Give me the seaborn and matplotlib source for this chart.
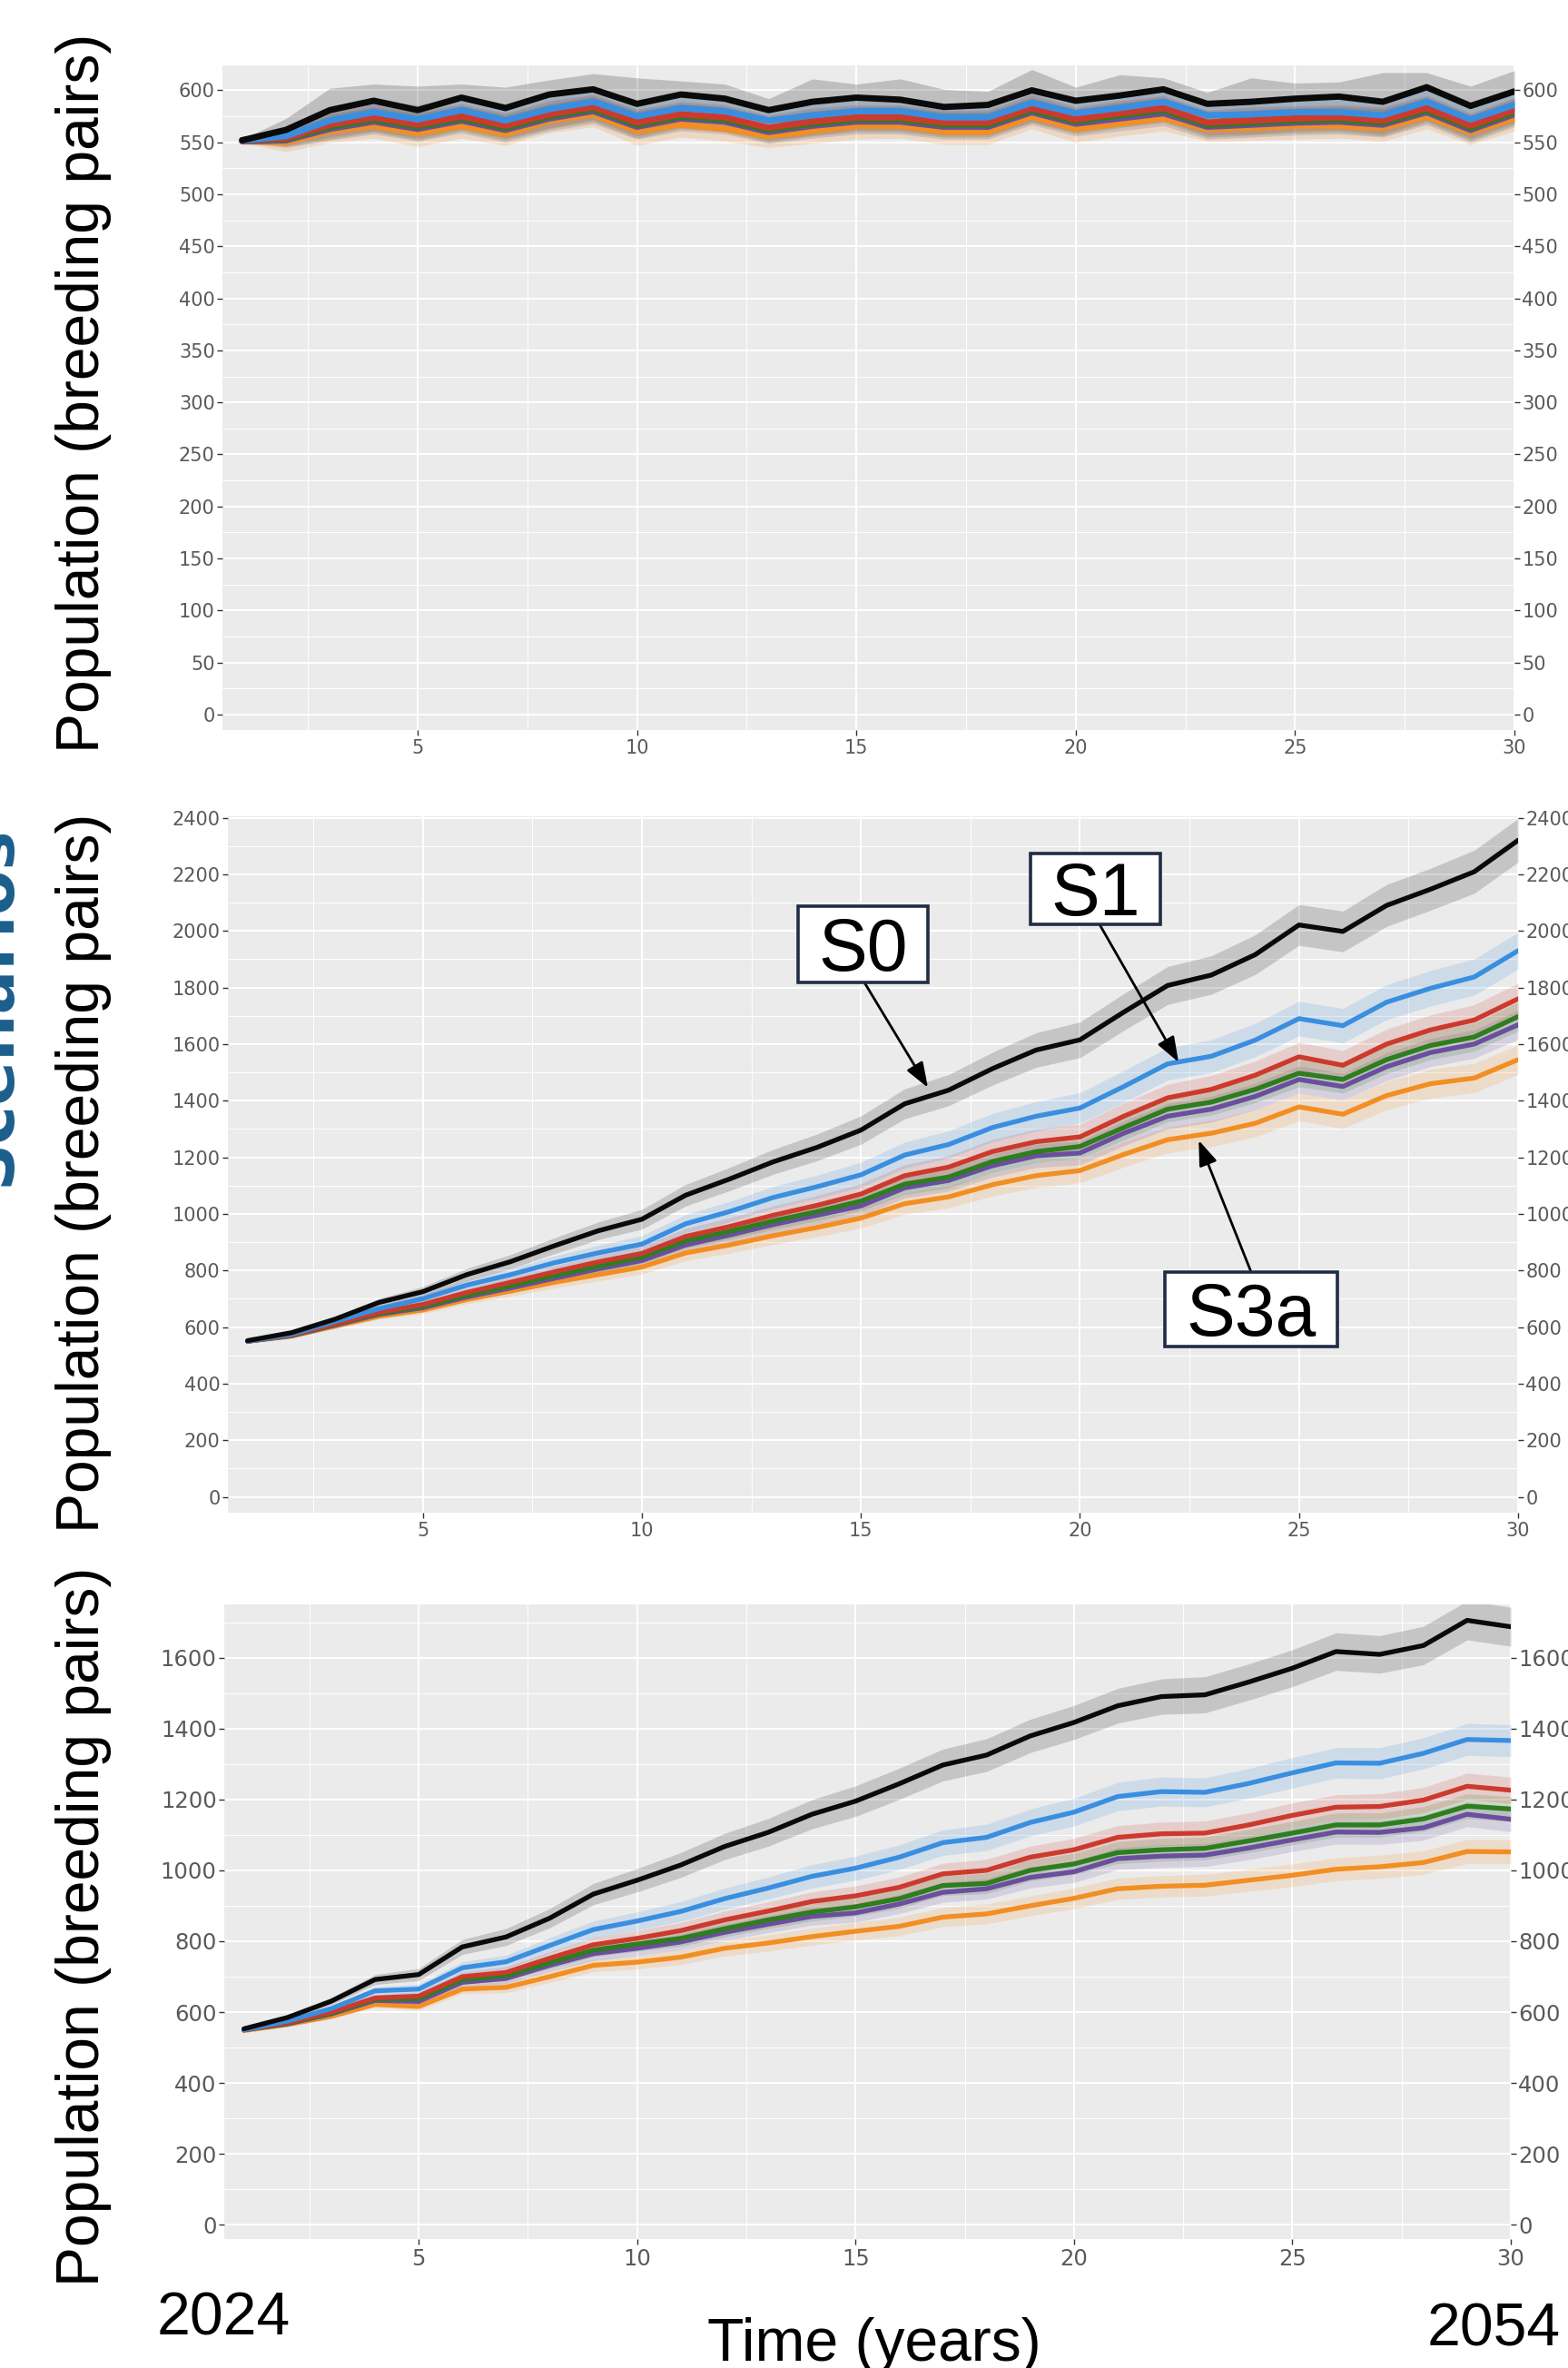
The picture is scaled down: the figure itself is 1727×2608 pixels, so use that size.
import numpy as np
import pandas as pd
import matplotlib
matplotlib.use("Agg")
import matplotlib.pyplot as plt
import seaborn as sns
from matplotlib import font_manager
from matplotlib.patches import Rectangle
from matplotlib.ticker import MultipleLocator

# ---------------- data ----------------
years = list(range(1, 31))
scenarios = ["S3a", "S3c", "S3b", "S2", "S1", "S0"]   # drawing order (S0 on top)
palette = {"S0": "#0A0A0A", "S1": "#3A8EE0", "S2": "#CC3A2E",
           "S3b": "#2E7D1E", "S3c": "#6B4E9E", "S3a": "#F28E22"}

# Panel 1 (top) means
p1_S0 = [552, 562, 581, 590, 581, 593, 583, 596, 601, 587, 596, 592, 581, 589, 593,
         591, 584, 586, 600, 590, 595, 601, 587, 589, 592, 594, 589, 603, 585, 599]
p1_S1 = [552, 556, 571, 579, 572, 581, 571, 582, 589, 575, 583, 580, 571, 576, 580,
         580, 574, 574, 588, 578, 583, 589, 576, 577, 579, 579, 576, 589, 572, 586]
p1_S2 = [552, 554, 567, 574, 567, 575, 566, 577, 584, 569, 577, 574, 564, 570, 574,
         574, 569, 569, 583, 572, 578, 583, 569, 571, 573, 574, 571, 583, 566, 581]
p1_S3b = [552, 553, 565, 572, 565, 573, 564, 575, 582, 567, 575, 572, 562, 568, 572,
          572, 567, 567, 581, 570, 576, 581, 567, 569, 571, 572, 569, 581, 564, 579]
p1_S3c = [551, 552, 563, 570, 563, 571, 562, 573, 580, 565, 573, 570, 560, 566, 570,
          570, 565, 565, 579, 568, 573, 578, 565, 567, 569, 570, 567, 579, 562, 577]
p1_S3a = [551, 550, 561, 566, 559, 566, 558, 571, 577, 561, 567, 563, 556, 561, 566,
          566, 560, 560, 575, 563, 568, 573, 563, 564, 566, 566, 564, 575, 560, 573]
# Panel 1 band half-widths
p1_w_S0 = [1, 11, 21, 16, 23, 13, 20, 14, 15, 25, 13, 14, 11, 22, 13,
           20, 17, 13, 20, 13, 20, 11, 11, 23, 15, 14, 28, 14, 19, 20]
p1_w_S1 = [1, 6, 12, 12, 14, 12, 13, 12, 12, 14, 12, 12, 11, 13, 12,
           13, 12, 12, 13, 12, 13, 12, 11, 13, 12, 12, 14, 12, 12, 13]
p1_w_S2 = [1, 7, 12, 13, 13, 12, 12, 13, 12, 13, 12, 12, 12, 13, 12,
           12, 12, 12, 13, 12, 12, 12, 12, 13, 12, 12, 13, 12, 12, 12]
p1_w_S3b = [1, 7, 12, 12, 13, 12, 12, 12, 12, 13, 12, 12, 12, 12, 12,
            12, 12, 12, 12, 12, 12, 12, 12, 12, 12, 12, 13, 12, 12, 12]
p1_w_S3c = [1, 7, 11, 12, 12, 12, 12, 12, 12, 12, 12, 12, 11, 12, 12,
            12, 12, 12, 12, 12, 12, 12, 12, 12, 12, 12, 12, 12, 12, 12]
p1_w_S3a = [1, 9, 11, 12, 13, 12, 11, 12, 12, 14, 12, 12, 11, 12, 13,
            12, 12, 12, 12, 13, 12, 12, 12, 12, 13, 12, 13, 12, 12, 12]

# Panel 2 (middle) means
p2_S0 = [552, 580, 628, 687, 725, 785, 831, 887, 940, 981, 1066, 1123, 1184, 1235, 1296,
         1389, 1437, 1513, 1579, 1615, 1713, 1807, 1844, 1916, 2021, 1998, 2090, 2147, 2209, 2320]
p2_S1 = [550, 575, 620, 665, 700, 748, 785, 827, 862, 893, 965, 1008, 1058, 1096, 1138,
         1208, 1245, 1305, 1345, 1374, 1450, 1530, 1557, 1614, 1690, 1665, 1748, 1797, 1837, 1930]
p2_S2 = [550, 572, 612, 652, 680, 722, 758, 795, 830, 860, 920, 955, 995, 1030, 1070,
         1135, 1165, 1220, 1255, 1272, 1345, 1410, 1440, 1490, 1555, 1525, 1600, 1650, 1685, 1760]
p2_S3b = [550, 570, 610, 648, 673, 712, 746, 782, 815, 848, 905, 938, 975, 1008, 1045,
          1105, 1130, 1185, 1220, 1238, 1305, 1370, 1395, 1440, 1497, 1475, 1545, 1595, 1625, 1697]
p2_S3c = [550, 569, 607, 645, 668, 706, 738, 772, 805, 835, 890, 925, 962, 995, 1028,
          1092, 1118, 1170, 1205, 1215, 1285, 1345, 1370, 1415, 1475, 1450, 1520, 1570, 1600, 1668]
p2_S3a = [550, 568, 603, 638, 660, 697, 727, 758, 785, 812, 862, 890, 923, 952, 985,
          1036, 1060, 1103, 1135, 1153, 1210, 1262, 1285, 1320, 1378, 1352, 1418, 1460, 1480, 1545]
p2_w_S0 = [1, 5, 10, 14, 18, 22, 25, 28, 31, 35, 38, 41, 44, 47, 50,
           53, 55, 58, 61, 63, 65, 67, 68, 70, 72, 72, 74, 74, 76, 77]
p2_w_S1 = [1, 5, 9, 12, 15, 18, 21, 24, 27, 30, 33, 36, 39, 41, 44,
           46, 48, 50, 52, 54, 56, 57, 58, 59, 61, 61, 62, 63, 64, 65]
p2_w_S2 = [1, 4, 8, 11, 13, 16, 19, 21, 24, 26, 29, 31, 33, 35, 37,
           39, 41, 43, 44, 45, 47, 48, 49, 50, 51, 52, 53, 53, 54, 55]
p2_w_S3b = [1, 4, 7, 10, 12, 15, 17, 19, 22, 24, 26, 28, 30, 32, 34,
            36, 38, 40, 41, 42, 44, 45, 46, 47, 48, 48, 49, 50, 50, 51]
p2_w_S3c = [1, 4, 7, 10, 12, 15, 17, 19, 22, 24, 26, 28, 30, 32, 34,
            36, 38, 40, 41, 42, 44, 45, 46, 47, 48, 48, 49, 50, 50, 51]
p2_w_S3a = [1, 4, 8, 10, 13, 15, 18, 20, 22, 25, 27, 29, 31, 33, 35,
            37, 39, 40, 42, 43, 45, 46, 47, 48, 49, 50, 50, 51, 52, 52]

# Panel 3 (bottom) means
p3_S0 = [553, 585, 631, 692, 706, 784, 812, 865, 933, 972, 1015, 1067, 1107, 1158, 1195,
         1244, 1297, 1325, 1379, 1417, 1464, 1490, 1495, 1531, 1570, 1617, 1609, 1634, 1705, 1687]
p3_S1 = [550, 575, 610, 660, 665, 725, 742, 788, 833, 857, 884, 920, 950, 983, 1006,
         1037, 1078, 1093, 1135, 1164, 1208, 1222, 1220, 1245, 1275, 1303, 1302, 1330, 1369, 1366]
p3_S2 = [550, 570, 600, 640, 645, 700, 712, 752, 790, 808, 830, 860, 885, 912, 928,
         952, 990, 1000, 1037, 1058, 1093, 1103, 1105, 1128, 1155, 1178, 1180, 1198, 1237, 1226]
p3_S3b = [550, 568, 597, 637, 638, 692, 703, 740, 775, 792, 808, 835, 860, 882, 897,
          920, 957, 963, 1000, 1018, 1050, 1058, 1062, 1083, 1105, 1128, 1128, 1145, 1181, 1173]
p3_S3c = [550, 567, 595, 633, 630, 684, 695, 732, 765, 780, 798, 825, 848, 870, 880,
          905, 938, 948, 980, 996, 1033, 1040, 1043, 1063, 1086, 1108, 1107, 1120, 1158, 1144]
p3_S3a = [548, 565, 588, 622, 616, 665, 670, 700, 732, 741, 755, 780, 795, 813, 828,
          842, 868, 877, 900, 921, 948, 955, 958, 972, 986, 1003, 1010, 1022, 1053, 1052]
p3_w_S0 = [1, 6, 10, 14, 17, 21, 24, 27, 30, 33, 35, 37, 39, 41, 43,
           44, 45, 46, 47, 48, 49, 50, 51, 51, 52, 53, 53, 54, 55, 55]
p3_w_S1 = [1, 5, 8, 11, 14, 17, 19, 22, 24, 26, 28, 30, 31, 33, 34,
           35, 36, 37, 38, 39, 40, 41, 41, 42, 43, 43, 44, 44, 45, 45]
p3_w_S2 = [1, 4, 7, 10, 12, 14, 16, 18, 20, 22, 23, 25, 26, 27, 28,
           29, 30, 31, 31, 32, 33, 33, 34, 34, 35, 35, 36, 36, 37, 37]
p3_w_S3b = [1, 4, 7, 9, 11, 13, 15, 17, 19, 20, 22, 23, 24, 25, 26,
            27, 28, 29, 30, 30, 31, 32, 32, 33, 33, 34, 34, 35, 35, 35]
p3_w_S3c = [1, 4, 7, 9, 11, 13, 15, 17, 19, 20, 22, 23, 24, 25, 26,
            27, 28, 29, 30, 30, 31, 32, 32, 33, 33, 34, 34, 35, 35, 35]
p3_w_S3a = [1, 4, 6, 9, 11, 13, 15, 16, 18, 19, 21, 22, 23, 24, 25,
            26, 27, 28, 28, 29, 30, 30, 31, 31, 32, 32, 33, 33, 34, 34]

panel_means = [
    {"S0": p1_S0, "S1": p1_S1, "S2": p1_S2, "S3b": p1_S3b, "S3c": p1_S3c, "S3a": p1_S3a},
    {"S0": p2_S0, "S1": p2_S1, "S2": p2_S2, "S3b": p2_S3b, "S3c": p2_S3c, "S3a": p2_S3a},
    {"S0": p3_S0, "S1": p3_S1, "S2": p3_S2, "S3b": p3_S3b, "S3c": p3_S3c, "S3a": p3_S3a},
]
panel_widths = [
    {"S0": p1_w_S0, "S1": p1_w_S1, "S2": p1_w_S2, "S3b": p1_w_S3b, "S3c": p1_w_S3c, "S3a": p1_w_S3a},
    {"S0": p2_w_S0, "S1": p2_w_S1, "S2": p2_w_S2, "S3b": p2_w_S3b, "S3c": p2_w_S3c, "S3a": p2_w_S3a},
    {"S0": p3_w_S0, "S1": p3_w_S1, "S2": p3_w_S2, "S3b": p3_w_S3b, "S3c": p3_w_S3c, "S3a": p3_w_S3a},
]

y_label = "Population (breeding pairs)"
x_label = "Time (years)"
start_year = "2024"
end_year = "2054"

# ---------------- style ----------------
sns.set_theme(style="darkgrid", rc={"axes.facecolor": "#EBEBEB", "grid.color": "white"})
plt.rcParams["font.family"] = ["DejaVu Sans"]

names = {f.name for f in font_manager.fontManager.ttflist}
if "Liberation Sans Narrow" in names:
    NARROW, nscale = "Liberation Sans Narrow", 1.0
else:
    NARROW, nscale = "Liberation Sans", 0.82

W, H = 1727, 2608
fig = plt.figure(figsize=(W / 100, H / 100), dpi=100)
fig.patch.set_facecolor("white")

# axes boxes in pixels: left, right, top, bottom
boxes = [(245, 1668, 72, 804), (251, 1672, 899, 1666), (247, 1664, 1767, 2466)]
ylims = [(-15, 624), (-56, 2405), (-40, 1750)]
ymaj = [50, 200, 200]
lws = [5.0, 3.8, 3.8]
tick_sizes = [15, 15, 17.5]
band_alpha = [0.2, 0.17, 0.17]

axes = []
for i, (l, r, t, b) in enumerate(boxes):
    ax = fig.add_axes([l / W, 1 - b / H, (r - l) / W, (b - t) / H])
    rows = []
    for s in scenarios:
        for yr, m, w in zip(years, panel_means[i][s], panel_widths[i][s]):
            rows.append((yr, m - w, s))
            rows.append((yr, m, s))
            rows.append((yr, m + w, s))
    df = pd.DataFrame(rows, columns=["year", "pop", "scenario"])
    sns.lineplot(data=df, x="year", y="pop", hue="scenario", hue_order=scenarios,
                 palette=palette, estimator="median", errorbar=("pi", 100),
                 err_kws={"alpha": band_alpha[i], "linewidth": 0}, linewidth=lws[i],
                 legend=False, ax=ax)
    ax.set_xlim(0.55, 30)
    ax.set_ylim(*ylims[i])
    ax.xaxis.set_major_locator(MultipleLocator(5))
    ax.xaxis.set_minor_locator(MultipleLocator(2.5))
    ax.yaxis.set_major_locator(MultipleLocator(ymaj[i]))
    ax.yaxis.set_minor_locator(MultipleLocator(ymaj[i] / 2))
    ax.grid(which="major", color="white", linewidth=1.5)
    ax.grid(which="minor", color="white", linewidth=0.7)
    ax.set_xlabel("")
    ax.set_ylabel("")
    for sp in ax.spines.values():
        sp.set_visible(False)
    ax.tick_params(axis="y", which="major", left=True, right=True, labelleft=True,
                   labelright=True, length=4, width=1, color="#333333",
                   labelcolor="#5A5A5A", labelsize=tick_sizes[i], pad=2)
    ax.tick_params(axis="x", which="major", bottom=True, length=4, width=1,
                   color="#333333", labelcolor="#5A5A5A", labelsize=tick_sizes[i], pad=3)
    ax.tick_params(which="minor", length=0)
    axes.append(ax)

# y labels
for cy in [433, 1292, 2122]:
    fig.text(92 / W, 1 - cy / H, y_label, rotation=90, ha="center", va="center",
             family=NARROW, fontsize=58 * nscale, color="black")

# partially visible blue heading at the far left (mostly outside the picture)
fig.text(26 / W, 1 - 1107 / H, "Scenarios", rotation=90, ha="right", va="center",
         fontsize=52, fontweight="bold", color="#1B5E8C")

# bottom texts
fig.text(246 / W, 1 - 2571 / H, start_year, ha="center", va="baseline",
         family=NARROW, fontsize=58 * nscale, color="black")
fig.text(1645 / W, 1 - 2584 / H, end_year, ha="center", va="baseline",
         family=NARROW, fontsize=58 * nscale, color="black")
fig.text(963 / W, 1 - 2600 / H, x_label, ha="center", va="baseline",
         family=NARROW, fontsize=58 * nscale, color="black")

# annotation boxes on the middle panel
ax2 = axes[1]
labels = [("S0", (879, 998, 143, 84), (952, 1082), (16.53, 1446)),
          ("S1", (1135, 940, 143, 78), (1211, 1018), (22.25, 1536)),
          ("S3a", (1283, 1401, 190, 82), (1378, 1401), (22.71, 1260))]
for txt, (x0, y0, bw, bh), start, tip in labels:
    fig.add_artist(Rectangle((x0 / W, 1 - (y0 + bh) / H), bw / W, bh / H,
                             transform=fig.transFigure, facecolor="white",
                             edgecolor="#1F2D44", linewidth=2.6, zorder=5))
    fig.text((x0 + bw / 2) / W, 1 - (y0 + bh / 2 + 29) / H, txt, ha="center",
             va="baseline", family="Liberation Sans", fontsize=58, color="black", zorder=6)
    ax2.annotate("", xy=tip, xycoords="data", xytext=(start[0], H - start[1]),
                 textcoords="figure pixels", annotation_clip=False,
                 arrowprops=dict(arrowstyle="-|>,head_length=0.6,head_width=0.22",
                                 color="black", lw=2.0, mutation_scale=28,
                                 shrinkA=0, shrinkB=0), zorder=6)

fig.savefig("out.png", dpi=100, facecolor="white")
